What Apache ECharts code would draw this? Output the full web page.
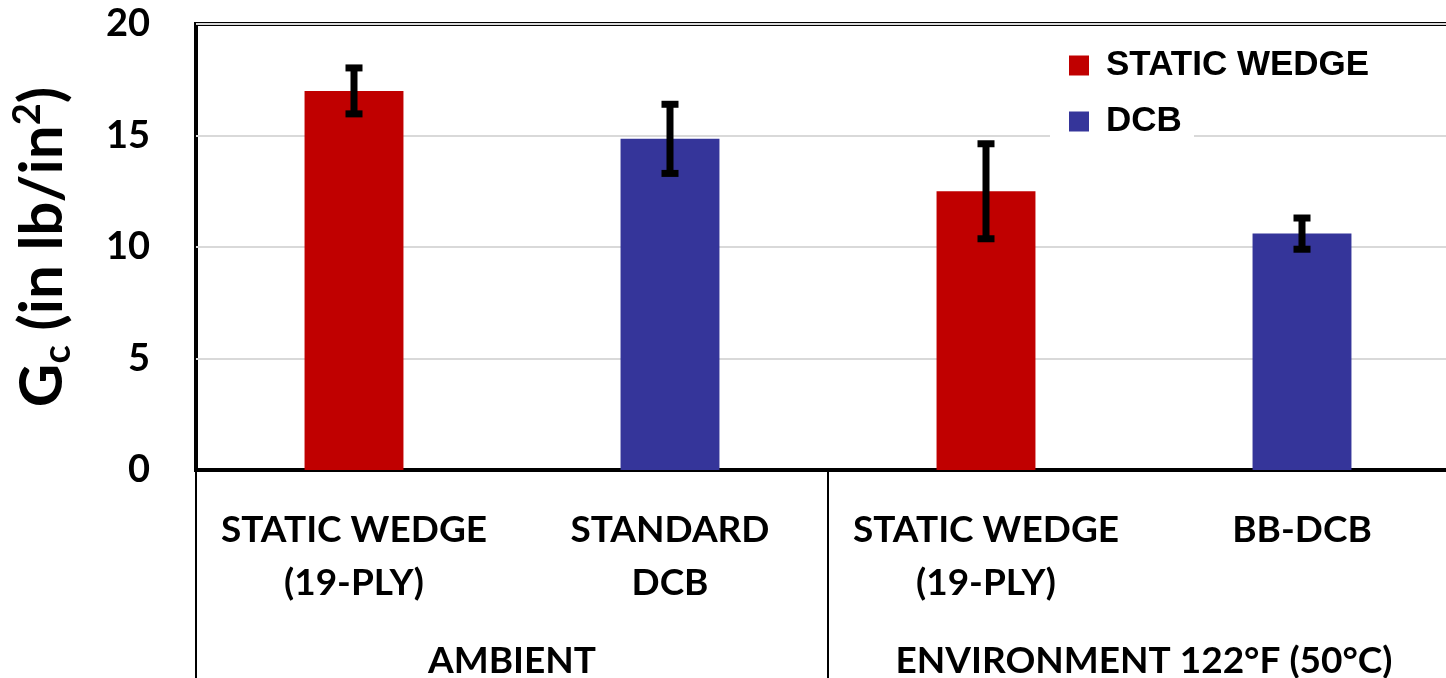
<!DOCTYPE html>
<html>
<head>
<meta charset="utf-8">
<script src="https://cdn.jsdelivr.net/npm/echarts@6/dist/echarts.min.js"></script>
<style>
  html, body { margin: 0; padding: 0; background: #fff; }
  #chart { width: 1446px; height: 678px; }
</style>
</head>
<body>
<div id="chart"></div>
<script>
// Specimen categories and test-condition groups
const categories = ['STATIC WEDGE\n(19-PLY)', 'STANDARD\nDCB', 'STATIC WEDGE\n(19-PLY)', 'BB-DCB'];
const groups = ['AMBIENT', 'ENVIRONMENT 122°F (50°C)'];
const seriesNames = ['STATIC WEDGE', 'DCB'];

// Mean fracture toughness Gc (in lb/in²) per category; null where the method was not used
const wedgeValues = [17.0, null, 12.5, null];
const dcbValues = [null, 14.85, null, 10.6];
// Scatter (± half-range) drawn as error bars
const errors = [1.03, 1.55, 2.13, 0.7];

const yTicks = { min: 0, max: 20, interval: 5 };

const RED = '#c00000';
const BLUE = '#35359a';
const FONT = 'Lato';

const means = categories.map((_, i) => wedgeValues[i] != null ? wedgeValues[i] : dcbValues[i]);
const errorData = means.map((m, i) => [i, m - errors[i], m + errors[i]]);

const chart = echarts.init(document.getElementById('chart'), null, { renderer: 'canvas' });

chart.setOption({
  animation: false,
  backgroundColor: '#fff',
  grid: {
    left: 196, top: 24, width: 1264, height: 446,
    outerBoundsMode: 'none',
    containLabel: false,
    show: true, borderColor: '#000', borderWidth: 4, backgroundColor: 'transparent'
  },
  legend: {
    data: seriesNames,
    orient: 'vertical',
    left: 1064, top: 43,
    itemWidth: 20, itemHeight: 20, itemGap: 21,
    icon: 'rect',
    textStyle: {
      fontFamily: 'Liberation Sans', fontWeight: 'bold', fontSize: 35, color: '#000',
      padding: [0, 0, 0, 12]
    }
  },
  graphic: [{
    type: 'rect', z: 1,
    shape: { x: 1050, y: 130, width: 144, height: 12 },
    style: { fill: '#fff' }
  }],
  xAxis: [{
    type: 'category',
    data: categories,
    position: 'bottom',
    axisLine: { show: true, lineStyle: { color: '#000', width: 4 } },
    axisTick: { show: false },
    axisLabel: {
      interval: 0, margin: 34, color: '#000',
      fontFamily: FONT, fontWeight: 'bold', fontSize: 37, lineHeight: 53
    },
    splitLine: { show: false }
  }, {
    type: 'category',
    data: groups,
    position: 'bottom',
    axisLine: { show: false },
    axisTick: { show: true, length: 210, lineStyle: { color: '#000', width: 2 } },
    axisLabel: {
      interval: 0, margin: 165, color: '#000',
      fontFamily: FONT, fontWeight: 'bold', fontSize: 37, lineHeight: 53
    },
    splitLine: { show: false }
  }],
  yAxis: {
    type: 'value',
    min: yTicks.min, max: yTicks.max, interval: yTicks.interval,
    axisLine: { show: false },
    axisTick: { show: false },
    axisLabel: {
      margin: 46, color: '#000',
      fontFamily: FONT, fontWeight: 'bold', fontSize: 38
    },
    splitLine: { lineStyle: { color: '#d9d9d9', width: 2 } },
    name: '{g|G}{sub|c}{g| (in lb/in}{sup|2}{g|)}',
    nameLocation: 'middle',
    nameRotate: 90,
    nameGap: 119,
    nameTextStyle: {
      color: '#000',
      rich: {
        g: { fontFamily: FONT, fontWeight: 'bold', fontSize: 60, lineHeight: 68, verticalAlign: 'middle' },
        sub: { fontFamily: FONT, fontWeight: 'bold', fontSize: 38, lineHeight: 68, verticalAlign: 'bottom', padding: [17, 0, 0, 0] },
        sup: { fontFamily: FONT, fontWeight: 'bold', fontSize: 38, lineHeight: 68, verticalAlign: 'top', padding: [0, 0, 17, 0] }
      }
    }
  },
  series: [{
    name: seriesNames[0],
    type: 'bar',
    data: wedgeValues,
    barWidth: '31.3%',
    barGap: '-100%',
    itemStyle: { color: RED },
    z: 2
  }, {
    name: seriesNames[1],
    type: 'bar',
    data: dcbValues,
    barWidth: '31.3%',
    barGap: '-100%',
    itemStyle: { color: BLUE },
    z: 2
  }, {
    name: 'error',
    type: 'custom',
    data: errorData,
    z: 5,
    renderItem: function (params, api) {
      const x = api.value(0);
      const lo = api.coord([x, api.value(1)]);
      const hi = api.coord([x, api.value(2)]);
      const capW = 17;
      const capH = 7;
      const stemW = 7;
      const style = { fill: '#000' };
      return {
        type: 'group',
        children: [
          { type: 'rect', shape: { x: hi[0] - stemW / 2, y: hi[1], width: stemW, height: lo[1] - hi[1] }, style: style },
          { type: 'rect', shape: { x: hi[0] - capW / 2, y: hi[1] - capH / 2, width: capW, height: capH }, style: style },
          { type: 'rect', shape: { x: lo[0] - capW / 2, y: lo[1] - capH / 2, width: capW, height: capH }, style: style }
        ]
      };
    }
  }]
});
</script>
</body>
</html>
